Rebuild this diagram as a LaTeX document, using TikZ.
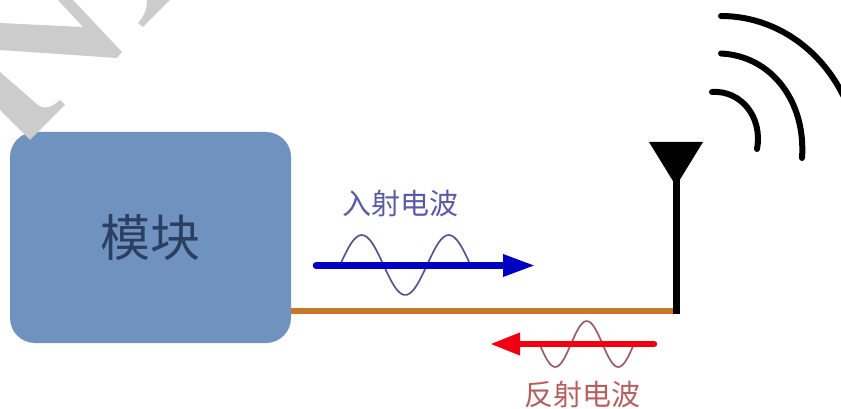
\documentclass[tikz,border=0pt]{standalone}
\usepackage{fontspec}
\usepackage{xcolor}
\usetikzlibrary{arrows.meta}
\newfontfamily\cjk{Noto Sans CJK SC}
\definecolor{boxblue}{HTML}{7092BE}
\definecolor{boxtext}{HTML}{2B3F62}
\definecolor{markgrey}{HTML}{CCCCCC}
\definecolor{feedorange}{HTML}{C8762A}
\definecolor{inblue}{HTML}{0000C0}
\definecolor{outred}{HTML}{F00010}
\definecolor{inwave}{HTML}{55558F}
\definecolor{outwave}{HTML}{9A5A70}
\definecolor{intext}{HTML}{5A5AA5}
\definecolor{outtext}{HTML}{B56060}
\tikzset{
  module/.style={draw=none, fill=boxblue, rounded corners=25pt, minimum width=281pt, minimum height=211pt, inner sep=0pt, text=boxtext, font=\cjk\fontsize{50}{50}\selectfont},
  wavelabel/.style={inner sep=0pt, font=\cjk\fontsize{29}{29}\selectfont},
  radio/.style={line width=6pt, line cap=round, black},
  sinewave/.style={line width=1.7pt, smooth}
}
\begin{document}
\begin{tikzpicture}[x=1pt, y=-1pt]
  \useasboundingbox (0,0) rectangle (841,409);
  \clip (0,0) rectangle (841,409);
  % watermark
  \fill[markgrey] (58,0) -- (83,27) -- (0,23) -- (0,50) -- (117,58) -- (122,52) -- (73,0) -- cycle;
  \fill[markgrey] (147,0) .. controls (147,8) and (145,15) .. (138,23) -- (143,27) -- (170,0) -- cycle;
  \node[module] (mod) at (150.5,237.5) {模块};
  \fill[markgrey] (0,72) -- (38,105) .. controls (45,110) and (52,107) .. (60,100) -- (65,105) -- (30,140) -- (0,110) -- cycle;
  % feed line and antenna
  \coordinate (foot) at (676,311);
  \coordinate (neck) at (676,180);
  \draw[line width=6.5pt, feedorange] (mod.east |- foot) -- (foot);
  \draw[line width=7pt, black] ([yshift=-3pt]foot) -- (neck);
  \fill[black] (649,142) -- (703,142) -- (676,186) -- cycle;
  % radio arcs
  \draw[radio] (721,16) .. controls (775,16) and (825,50) .. (848,106);
  \draw[radio] (721,53.5) .. controls (772,56) and (806,102) .. (802,158);
  \draw[radio] (712,92) .. controls (740,90) and (763,116) .. (757,149);
  % incident wave
  \draw[sinewave, color=inwave] plot[domain=0:1.5, samples=50] ({340+\x*87}, {265-30*sin(\x*360)});
  \coordinate (inA) at (316,265.5);
  \coordinate (inB) at (535,265.5);
  \draw[-{Triangle[length=32pt,width=21pt]}, line width=6.5pt, line cap=round, inblue] (inA) -- (inB);
  \node[wavelabel, text=intext] (inlabel) at (400,203) {入射电波};
  % reflected wave
  \draw[sinewave, color=outwave] plot[domain=0:1.5, samples=50] ({634-\x*63}, {344+23*sin(\x*360)});
  \coordinate (outA) at (654,344);
  \coordinate (outB) at (490,344);
  \draw[-{Triangle[length=30pt,width=21pt]}, line width=6.5pt, line cap=round, outred] (outA) -- (outB);
  \node[wavelabel, text=outtext] (outlabel) at (582,395) {反射电波};
\end{tikzpicture}
\end{document}
